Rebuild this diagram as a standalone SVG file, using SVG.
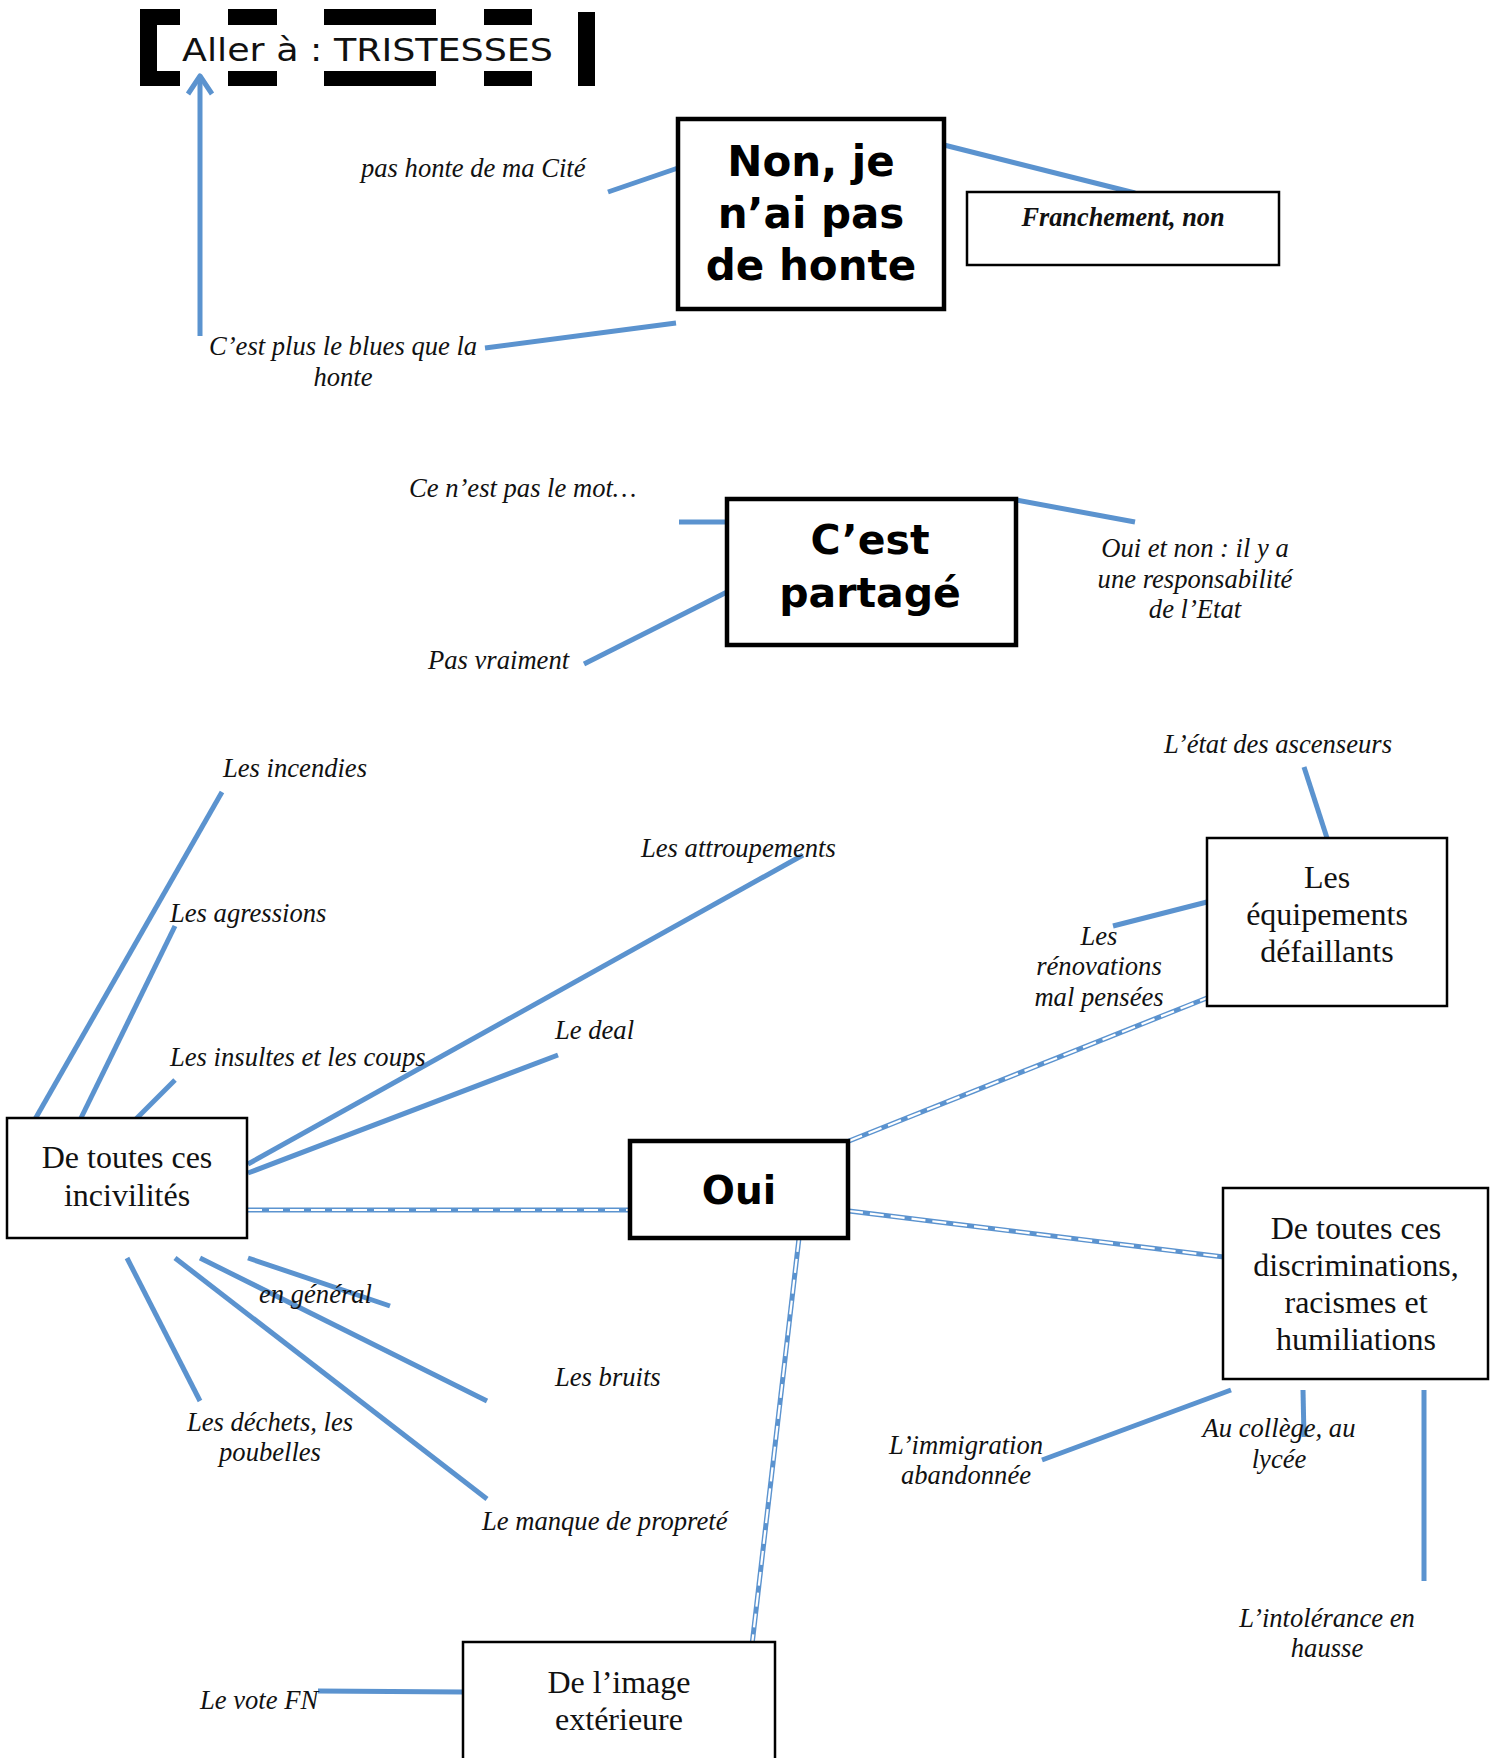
<svg xmlns="http://www.w3.org/2000/svg" width="1499" height="1758" viewBox="0 0 1499 1758">
<style>
.box{fill:#fff;stroke:#000;stroke-width:2.5}
.boxb{fill:#fff;stroke:#000;stroke-width:4.5}
.lbl{font-family:"Liberation Serif",serif;font-style:italic;font-size:26.6px;fill:#111}
.bt{font-family:"Liberation Serif",serif;font-size:32px;fill:#111;text-anchor:middle}
.heavy{font-family:"DejaVu Sans",sans-serif;font-weight:bold;fill:#000;text-anchor:middle}
.c{stroke:#5b93cf;stroke-width:5;fill:none;stroke-linecap:butt}
.dw{stroke:#fff;stroke-width:2.2;fill:none;stroke-dasharray:14 7}
.m{text-anchor:middle}
</style>
<rect width="1499" height="1758" fill="#fff"/>

<g id="aller">
<rect x="140" y="9" width="17" height="77" fill="#000"/>
<rect x="140" y="9" width="40" height="16" fill="#000"/>
<rect x="140" y="71" width="40" height="15" fill="#000"/>
<rect x="228" y="9" width="49" height="16" fill="#000"/>
<rect x="228" y="71" width="49" height="15" fill="#000"/>
<rect x="324" y="9" width="112" height="16" fill="#000"/>
<rect x="324" y="71" width="112" height="15" fill="#000"/>
<rect x="484" y="9" width="48" height="16" fill="#000"/>
<rect x="484" y="71" width="48" height="15" fill="#000"/>
<rect x="578" y="12" width="17" height="74" fill="#000"/>
<text x="182" y="61" font-family="DejaVu Sans, sans-serif" font-size="32" textLength="371" lengthAdjust="spacingAndGlyphs" fill="#111">Aller à : TRISTESSES</text>
</g>

<g id="connectors">
<line class="c" x1="200" y1="336" x2="200" y2="78"/>
<polyline class="c" points="188,94 200,76 212,94" stroke-linecap="round" stroke-linejoin="round"/>
<line class="c" x1="944" y1="145" x2="1135" y2="193"/>
<line class="c" x1="608" y1="192" x2="678" y2="168"/>
<line class="c" x1="485" y1="348" x2="676" y2="323"/>
<line class="c" x1="679" y1="522" x2="727" y2="522"/>
<line class="c" x1="1016" y1="500" x2="1135" y2="522"/>
<line class="c" x1="584" y1="664" x2="727" y2="592"/>
<line class="c" x1="1304" y1="767" x2="1327" y2="838"/>
<line class="c" x1="1113" y1="926" x2="1207" y2="902"/>
<line class="c" x1="803" y1="855" x2="248" y2="1164"/>
<line class="c" x1="558" y1="1055" x2="248" y2="1173"/>
<line class="c" x1="222" y1="792" x2="34" y2="1121"/>
<line class="c" x1="175" y1="926" x2="81" y2="1118"/>
<line class="c" x1="175" y1="1080" x2="130" y2="1125"/>
<line class="c" x1="248" y1="1258" x2="390" y2="1306"/>
<line class="c" x1="200" y1="1258" x2="487" y2="1401"/>
<line class="c" x1="175" y1="1258" x2="487" y2="1499"/>
<line class="c" x1="127" y1="1258" x2="200" y2="1401"/>
<line class="c" x1="318" y1="1691" x2="463" y2="1692"/>
<line class="c" x1="1042" y1="1460" x2="1231" y2="1390"/>
<line class="c" x1="1303" y1="1390" x2="1304" y2="1437"/>
<line class="c" x1="1424" y1="1390" x2="1424" y2="1581"/>
<line class="c" x1="849" y1="1141" x2="1207" y2="998"/>
<line class="dw" x1="849" y1="1141" x2="1207" y2="998"/>
<line class="c" x1="248" y1="1210" x2="628" y2="1210"/>
<line class="dw" x1="248" y1="1210" x2="628" y2="1210"/>
<line class="c" x1="849" y1="1211" x2="1232" y2="1258"/>
<line class="dw" x1="849" y1="1211" x2="1232" y2="1258"/>
<line class="c" x1="799" y1="1238" x2="752" y2="1645"/>
<line class="dw" x1="799" y1="1238" x2="752" y2="1645"/>
</g>

<g id="non">
<rect class="boxb" x="678" y="119" width="266" height="190"/>
<text class="heavy" x="811" y="176" font-size="42">Non, je</text>
<text class="heavy" x="811" y="228" font-size="42">n’ai pas</text>
<text class="heavy" x="811" y="280" font-size="42">de honte</text>
</g>

<g id="franchement">
<rect class="box" x="967" y="192" width="312" height="73"/>
<text x="1123" y="226" font-family="Liberation Serif, serif" font-style="italic" font-weight="bold" font-size="26.3" text-anchor="middle" fill="#111">Franchement, non</text>
</g>

<g id="labels-top">
<text class="lbl" x="361" y="177">pas honte de ma Cité</text>
<text class="lbl" x="209" y="355">C’est plus le blues que la</text>
<text class="lbl m" x="343" y="386">honte</text>
<text class="lbl" x="409" y="497">Ce n’est pas le mot…</text>
<text class="lbl" x="428" y="669">Pas vraiment</text>
<text class="lbl m" x="1195" y="557">Oui et non : il y a</text>
<text class="lbl m" x="1195" y="588">une responsabilité</text>
<text class="lbl m" x="1195" y="618">de l’Etat</text>
</g>

<g id="partage">
<rect class="boxb" x="727" y="499" width="289" height="146"/>
<text class="heavy" x="870" y="554" font-size="41">C’est</text>
<text class="heavy" x="870" y="607" font-size="41">partagé</text>
</g>

<g id="equipements">
<rect class="box" x="1207" y="838" width="240" height="168"/>
<text class="bt" x="1327" y="888">Les</text>
<text class="bt" x="1327" y="925">équipements</text>
<text class="bt" x="1327" y="962">défaillants</text>
</g>

<g id="incivilites">
<rect class="box" x="7" y="1118" width="240" height="120"/>
<text class="bt" x="127" y="1168">De toutes ces</text>
<text class="bt" x="127" y="1206">incivilités</text>
</g>

<g id="oui">
<rect class="boxb" x="630" y="1141" width="218" height="97"/>
<text class="heavy" x="739" y="1204" font-size="39">Oui</text>
</g>

<g id="discriminations">
<rect class="box" x="1223" y="1188" width="265" height="191"/>
<text class="bt" x="1356" y="1239">De toutes ces</text>
<text class="bt" x="1356" y="1276">discriminations,</text>
<text class="bt" x="1356" y="1313">racismes et</text>
<text class="bt" x="1356" y="1350">humiliations</text>
</g>

<g id="image">
<rect class="box" x="463" y="1642" width="312" height="130"/>
<text class="bt" x="619" y="1693">De l’image</text>
<text class="bt" x="619" y="1730">extérieure</text>
</g>

<g id="labels-bottom">
<text class="lbl" x="1164" y="753">L’état des ascenseurs</text>
<text class="lbl m" x="1099" y="945">Les</text>
<text class="lbl m" x="1099" y="975">rénovations</text>
<text class="lbl m" x="1099" y="1006">mal pensées</text>
<text class="lbl" x="641" y="857">Les attroupements</text>
<text class="lbl" x="223" y="777">Les incendies</text>
<text class="lbl" x="170" y="922">Les agressions</text>
<text class="lbl" x="170" y="1066">Les insultes et les coups</text>
<text class="lbl" x="555" y="1039">Le deal</text>
<text class="lbl" x="259" y="1303">en général</text>
<text class="lbl" x="555" y="1386">Les bruits</text>
<text class="lbl m" x="270" y="1431">Les déchets, les</text>
<text class="lbl m" x="270" y="1461">poubelles</text>
<text class="lbl" x="482" y="1530">Le manque de propreté</text>
<text class="lbl m" x="966" y="1454">L’immigration</text>
<text class="lbl m" x="966" y="1484">abandonnée</text>
<text class="lbl m" x="1279" y="1437">Au collège, au</text>
<text class="lbl m" x="1279" y="1468">lycée</text>
<text class="lbl m" x="1327" y="1627">L’intolérance en</text>
<text class="lbl m" x="1327" y="1657">hausse</text>
<text class="lbl" x="200" y="1709">Le vote FN</text>
</g>
</svg>
